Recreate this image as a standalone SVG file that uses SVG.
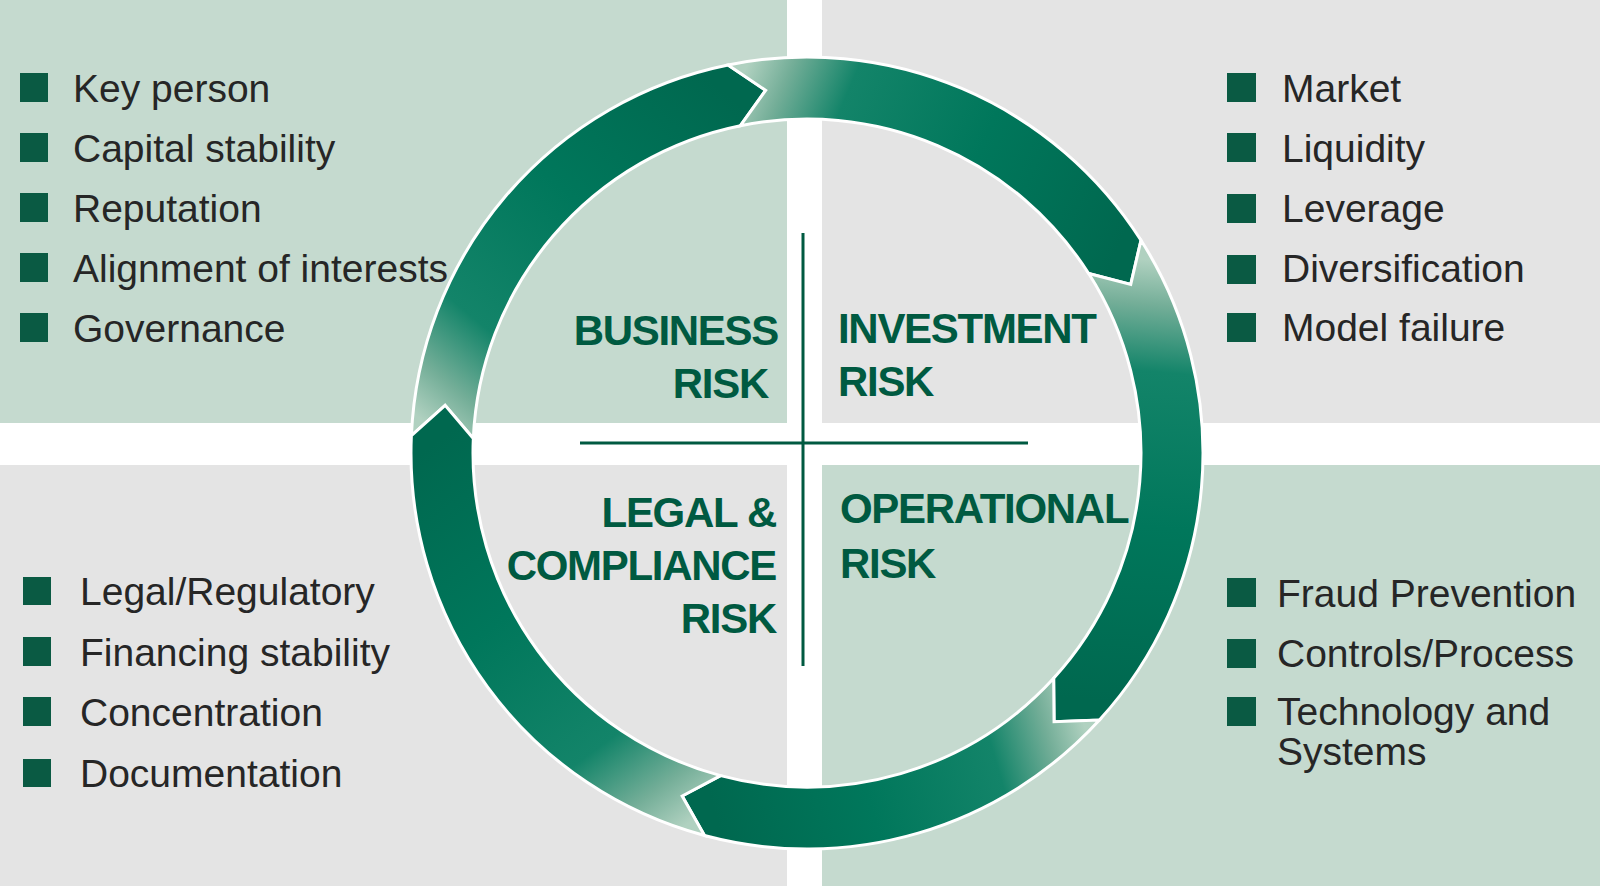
<svg xmlns="http://www.w3.org/2000/svg" width="1600" height="886" viewBox="0 0 1600 886">
  <style>
    .bg-green { fill: #c5dacf; }
    .bg-grey { fill: #e4e4e4; }
    .item { font-family: "Liberation Sans", Arial, sans-serif; font-size: 39px; fill: #262626; }
    .title { font-family: "Liberation Sans", Arial, sans-serif; font-size: 42px; font-weight: bold; letter-spacing: -1.3px; fill: #005a41; }
    .bullet { fill: #0a5a43; }
    .arrow { stroke: #ffffff; stroke-width: 3; stroke-linejoin: miter; }
    .cross { stroke: #005a41; stroke-width: 3; fill: none; }
    .s0 { stop-color: #b0d1c0; }
    .s1 { stop-color: #74ae98; }
    .s2 { stop-color: #138469; }
    .s3 { stop-color: #00775b; }
    .s4 { stop-color: #00684f; }
  </style>
  <defs>
    <linearGradient id="g1" gradientUnits="userSpaceOnUse" x1="442.35" y1="437.08" x2="728.05" y2="95.0">
      <stop offset="0" class="s0"/><stop offset="0.1" class="s1"/><stop offset="0.25" class="s2"/><stop offset="0.6" class="s3"/><stop offset="1" class="s4"/>
    </linearGradient>
    <linearGradient id="g2" gradientUnits="userSpaceOnUse" x1="734.23" y1="95.33" x2="1114.84" y2="256.89">
      <stop offset="0" class="s0"/><stop offset="0.1" class="s1"/><stop offset="0.25" class="s2"/><stop offset="0.6" class="s3"/><stop offset="1" class="s4"/>
    </linearGradient>
    <linearGradient id="g3" gradientUnits="userSpaceOnUse" x1="1114.84" y1="256.89" x2="1076.54" y2="699.12">
      <stop offset="0" class="s0"/><stop offset="0.1" class="s1"/><stop offset="0.25" class="s2"/><stop offset="0.6" class="s3"/><stop offset="1" class="s4"/>
    </linearGradient>
    <linearGradient id="g4" gradientUnits="userSpaceOnUse" x1="1076.54" y1="699.12" x2="712.53" y2="805.56">
      <stop offset="0" class="s0"/><stop offset="0.1" class="s1"/><stop offset="0.25" class="s2"/><stop offset="0.6" class="s3"/><stop offset="1" class="s4"/>
    </linearGradient>
    <linearGradient id="g5" gradientUnits="userSpaceOnUse" x1="712.53" y1="805.56" x2="442.35" y2="437.08">
      <stop offset="0" class="s0"/><stop offset="0.1" class="s1"/><stop offset="0.25" class="s2"/><stop offset="0.6" class="s3"/><stop offset="1" class="s4"/>
    </linearGradient>
  </defs>

  <rect x="0" y="0" width="1600" height="886" fill="#ffffff"/>
  <g id="backgrounds">
    <rect class="bg-green" x="0" y="0" width="787" height="423"/>
    <rect class="bg-grey" x="822" y="0" width="778" height="423"/>
    <rect class="bg-grey" x="0" y="465" width="787" height="421"/>
    <rect class="bg-green" x="822" y="465" width="778" height="421"/>
  </g>

  <g id="connectors">
    <path class="arrow" fill="url(#g1)" d="M 473.32 438.43 L 445.12 405.36 L 411.38 435.73 A 396 396 0 0 1 728.05 64.95 L 765.68 90.35 L 740.41 125.71 A 334 334 0 0 0 473.32 438.43 Z"/>
    <path class="arrow" fill="url(#g2)" d="M 740.41 125.71 L 765.68 90.35 L 728.05 64.95 A 396 396 0 0 1 1140.98 240.23 L 1130.76 284.46 L 1088.69 273.54 A 334 334 0 0 0 740.41 125.71 Z"/>
    <path class="arrow" fill="url(#g3)" d="M 1088.69 273.54 L 1130.76 284.46 L 1140.98 240.23 A 396 396 0 0 1 1099.43 720.02 L 1054.06 721.68 L 1053.65 678.22 A 334 334 0 0 0 1088.69 273.54 Z"/>
    <path class="arrow" fill="url(#g4)" d="M 1053.65 678.22 L 1054.06 721.68 L 1099.43 720.02 A 396 396 0 0 1 704.51 835.51 L 682.16 795.99 L 720.55 775.62 A 334 334 0 0 0 1053.65 678.22 Z"/>
    <path class="arrow" fill="url(#g5)" d="M 720.55 775.62 L 682.16 795.99 L 704.51 835.51 A 396 396 0 0 1 411.38 435.73 L 445.12 405.36 L 473.32 438.43 A 334 334 0 0 0 720.55 775.62 Z"/>
  </g>

  <g id="crosshair">
    <line class="cross" x1="803" y1="233" x2="803" y2="666"/>
    <line class="cross" x1="580" y1="443" x2="1028" y2="443"/>
  </g>

  <g id="business-risk">
    <text class="title" x="778" y="345" text-anchor="end">BUSINESS</text>
    <text class="title" x="768" y="398" text-anchor="end">RISK</text>
    <rect class="bullet" x="20" y="73" width="28" height="29"/>
    <rect class="bullet" x="20" y="133" width="28" height="29"/>
    <rect class="bullet" x="20" y="193" width="28" height="29"/>
    <rect class="bullet" x="20" y="253" width="28" height="29"/>
    <rect class="bullet" x="20" y="313" width="28" height="29"/>
    <text class="item" x="73" y="102">Key person</text>
    <text class="item" x="73" y="162">Capital stability</text>
    <text class="item" x="73" y="222">Reputation</text>
    <text class="item" x="73" y="282">Alignment of interests</text>
    <text class="item" x="73" y="342">Governance</text>
  </g>

  <g id="investment-risk">
    <text class="title" x="838" y="343">INVESTMENT</text>
    <text class="title" x="838" y="396">RISK</text>
    <rect class="bullet" x="1227" y="73" width="29" height="29"/>
    <rect class="bullet" x="1227" y="133" width="29" height="29"/>
    <rect class="bullet" x="1227" y="194" width="29" height="29"/>
    <rect class="bullet" x="1227" y="255" width="29" height="29"/>
    <rect class="bullet" x="1227" y="313" width="29" height="29"/>
    <text class="item" x="1282" y="102">Market</text>
    <text class="item" x="1282" y="162">Liquidity</text>
    <text class="item" x="1282" y="222">Leverage</text>
    <text class="item" x="1282" y="282">Diversification</text>
    <text class="item" x="1282" y="341">Model failure</text>
  </g>

  <g id="legal-compliance-risk">
    <text class="title" x="776" y="527" text-anchor="end">LEGAL &amp;</text>
    <text class="title" x="776" y="580" text-anchor="end">COMPLIANCE</text>
    <text class="title" x="776" y="633" text-anchor="end">RISK</text>
    <rect class="bullet" x="23" y="577" width="28" height="28"/>
    <rect class="bullet" x="23" y="637" width="28" height="29"/>
    <rect class="bullet" x="23" y="697" width="28" height="29"/>
    <rect class="bullet" x="23" y="759" width="28" height="28"/>
    <text class="item" x="80" y="605">Legal/Regulatory</text>
    <text class="item" x="80" y="666">Financing stability</text>
    <text class="item" x="80" y="726">Concentration</text>
    <text class="item" x="80" y="787">Documentation</text>
  </g>

  <g id="operational-risk">
    <text class="title" x="840" y="523">OPERATIONAL</text>
    <text class="title" x="840" y="578">RISK</text>
    <rect class="bullet" x="1227" y="578" width="29" height="29"/>
    <rect class="bullet" x="1227" y="639" width="29" height="29"/>
    <rect class="bullet" x="1227" y="697" width="29" height="29"/>
    <text class="item" x="1277" y="607">Fraud Prevention</text>
    <text class="item" x="1277" y="667">Controls/Process</text>
    <text class="item" x="1277" y="725">Technology and</text>
    <text class="item" x="1277" y="765">Systems</text>
  </g>
</svg>
